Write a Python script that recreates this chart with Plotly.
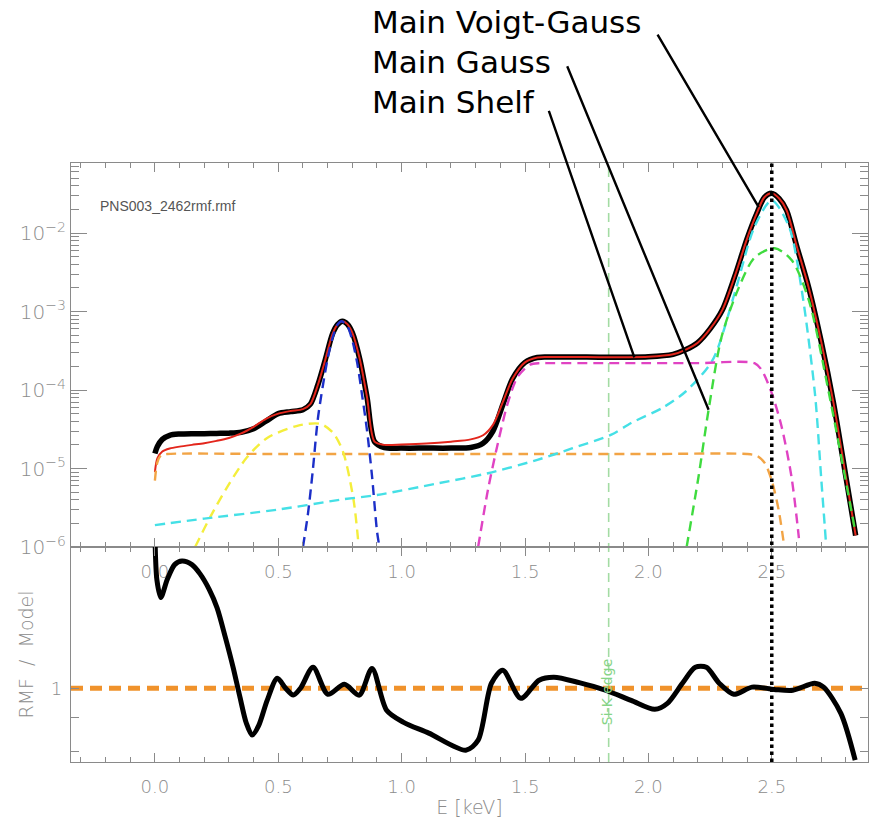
import plotly.graph_objects as go
from plotly.subplots import make_subplots
import math

# ---------------- data ----------------
rmf_E = [0.0, 0.01, 0.03, 0.06, 0.10, 0.15, 0.20, 0.25, 0.30, 0.35,
         0.40, 0.45, 0.50, 0.55, 0.60, 0.63, 0.66, 0.69, 0.72, 0.74,
         0.76, 0.78, 0.80, 0.83, 0.86, 0.89, 0.93, 1.00, 1.10, 1.20,
         1.28, 1.33, 1.37, 1.41, 1.45, 1.50, 1.55, 1.60, 1.70, 1.80,
         1.90, 2.00, 2.10, 2.15, 2.20, 2.25, 2.30, 2.35, 2.40, 2.44,
         2.47, 2.50, 2.53, 2.56, 2.60, 2.65, 2.70, 2.75, 2.80, 2.84]
rmf_val = [1.55e-5, 1.9e-5, 2.35e-5, 2.65e-5, 2.75e-5, 2.78e-5, 2.78e-5, 2.8e-5, 2.82e-5, 2.9e-5,
           3.2e-5, 4.0e-5, 5.0e-5, 5.3e-5, 5.6e-5, 6.6e-5, 1.15e-4, 2.4e-4, 5.2e-4, 6.8e-4,
           7.5e-4, 6.9e-4, 5.4e-4, 2.5e-4, 8e-5, 2.2e-5, 1.85e-5, 1.82e-5, 1.82e-5, 1.82e-5,
           1.85e-5, 2.1e-5, 3.0e-5, 6.5e-5, 1.4e-4, 2.25e-4, 2.6e-4, 2.63e-4, 2.63e-4, 2.62e-4,
           2.62e-4, 2.65e-4, 2.85e-4, 3.25e-4, 4.0e-4, 6.0e-4, 1.05e-3, 2.8e-3, 8.5e-3, 1.8e-2,
           2.85e-2, 3.2e-2, 2.75e-2, 1.95e-2, 7e-3, 2e-3, 4.2e-4, 6.9e-5, 8e-6, 1.4e-6]
model_val = [9e-6, 1.35e-5, 1.65e-5, 1.8e-5, 1.9e-5, 2.0e-5, 2.1e-5, 2.25e-5, 2.45e-5, 2.8e-5,
             3.4e-5, 4.3e-5, 5.0e-5, 5.4e-5, 5.7e-5, 6.6e-5, 1.15e-4, 2.4e-4, 5.2e-4, 6.8e-4,
             7.5e-4, 6.9e-4, 5.4e-4, 2.5e-4, 8e-5, 2.2e-5, 2.0e-5, 2.02e-5, 2.08e-5, 2.2e-5,
             2.35e-5, 2.65e-5, 3.6e-5, 7e-5, 1.4e-4, 2.25e-4, 2.6e-4, 2.63e-4, 2.63e-4, 2.62e-4,
             2.62e-4, 2.65e-4, 2.85e-4, 3.25e-4, 4.0e-4, 6.0e-4, 1.05e-3, 2.8e-3, 8.5e-3, 1.8e-2,
             2.85e-2, 3.2e-2, 2.75e-2, 1.95e-2, 7e-3, 2e-3, 4.2e-4, 6.9e-5, 8e-6, 1.4e-6]

orange_E = [0.0, 0.01, 0.025, 0.05, 0.5, 1.0, 1.5, 2.0, 2.40, 2.44, 2.472, 2.50, 2.528, 2.549]
orange_val = [7e-6, 1.2e-5, 1.48e-5, 1.53e-5, 1.53e-5, 1.53e-5, 1.53e-5, 1.53e-5, 1.53e-5,
              1.45e-5, 1.17e-5, 7e-6, 2.95e-6, 1.1e-6]

yellow_E = [0.163, 0.224, 0.293, 0.374, 0.455, 0.577, 0.671, 0.724, 0.764, 0.805, 0.825]
yellow_val = [1e-6, 2.4e-6, 5.8e-6, 1.4e-5, 2.45e-5, 3.5e-5, 3.7e-5, 2.8e-5, 1.58e-5, 4e-6, 1.1e-6]

blue_E = [0.60, 0.62, 0.64, 0.66, 0.68, 0.70, 0.72, 0.74, 0.757, 0.78, 0.80, 0.82,
          0.84, 0.86, 0.88, 0.90, 0.91]
blue_val = [1.0e-6, 2.6e-6, 9.5e-6, 4.2e-5, 1.1e-4, 2.5e-4, 4.6e-4, 6.8e-4, 7.5e-4, 6.5e-4,
            4.3e-4, 2.2e-4, 8.5e-5, 3.0e-5, 8e-6, 1.6e-6, 1.0e-6]

magenta_E = [1.31, 1.35, 1.39, 1.43, 1.47, 1.52, 1.56, 1.60, 1.80, 2.00, 2.20, 2.43,
             2.459, 2.50, 2.54, 2.58, 2.61]
magenta_val = [1e-6, 5.4e-6, 2.1e-5, 6.8e-5, 1.47e-4, 2.1e-4, 2.2e-4, 2.2e-4, 2.2e-4, 2.2e-4,
               2.2e-4, 2.2e-4, 1.8e-4, 9.1e-5, 3.4e-5, 7.8e-6, 1.3e-6]

cyan_E = [0.0, 0.2, 0.5, 0.75, 0.9, 1.15, 1.35, 1.55, 1.69, 1.85, 1.93, 2.06, 2.15, 2.26,
          2.35, 2.43, 2.50, 2.57, 2.62, 2.675, 2.70, 2.72]
cyan_val = [1.9e-6, 2.3e-6, 3.0e-6, 4.0e-6, 4.6e-6, 6.5e-6, 8.7e-6, 1.29e-5, 1.8e-5, 2.7e-5,
            3.8e-5, 6e-5, 9.5e-5, 2.4e-4, 1.73e-3, 1.2e-2, 2.6e-2, 1.2e-2, 2e-3, 9e-5, 7.8e-6, 1.1e-6]

green_E = [2.155, 2.203, 2.244, 2.297, 2.366, 2.431, 2.512, 2.581, 2.65, 2.732, 2.837]
green_val = [1e-6, 7.8e-6, 5.6e-5, 4.8e-4, 2e-3, 4.9e-3, 6.4e-3, 4.5e-3, 1.4e-3, 9e-5, 1.66e-6]

ratio_E = [0.0, 0.008, 0.024, 0.05, 0.08, 0.11, 0.15, 0.183, 0.22, 0.252, 0.285, 0.317,
           0.345, 0.37, 0.394, 0.42, 0.455, 0.496, 0.53, 0.561, 0.59, 0.641, 0.701, 0.768,
           0.828, 0.880, 0.939, 1.006, 1.11, 1.26, 1.31, 1.364, 1.41, 1.483, 1.557, 1.617,
           1.72, 1.826, 1.93, 2.026, 2.077, 2.138, 2.19, 2.235, 2.287, 2.346, 2.42, 2.51,
           2.585, 2.674, 2.71, 2.78, 2.838]
ratio_val = [1.75, 1.47, 1.38, 1.47, 1.55, 1.57, 1.55, 1.50, 1.42, 1.33, 1.20, 1.077,
             0.968, 0.885, 0.847, 0.875, 0.958, 1.036, 1.0, 0.976, 1.0, 1.077, 0.979, 1.014,
             0.976, 1.073, 0.925, 0.887, 0.853, 0.803, 0.832, 1.018, 1.066, 0.965, 1.029, 1.04,
             1.02, 0.993, 0.958, 0.928, 0.948, 1.018, 1.077, 1.077, 1.018, 0.979, 1.004, 0.996,
             0.993, 1.018, 1.004, 0.915, 0.775]

top_tick_exponents = [-6, -5, -4, -3, -2]
ratio_major_ticks = [1.0]
ratio_major_text = ["1"]
ratio_minor_ticks = [0.8, 0.9]

SI_K_EDGE = 1.839
LINE_ENERGY = 2.5
RATIO_REF = 1.0
file_label = "PNS003_2462rmf.rmf"
callouts = [  # (text, energy, value at the pointed spot)
    ("Main Voigt-Gauss", 2.447, 2.14e-2),
    ("Main Gauss", 2.244, 5.6e-5),
    ("Main Shelf", 1.943, 2.6e-4),
]

# ---------------- figure ----------------
W, H = 874, 826
ML, MR, MT, MB = 71, 6, 163, 64
top_frac = 384 / 599

fig = make_subplots(rows=2, cols=1, vertical_spacing=0,
                    row_heights=[top_frac, 1 - top_frac])

GREY = "#8c8c8c"
AX = "#8a8a8a"
TICKFONT = dict(family="DejaVu Sans", size=18, color=GREY, weight=200)

def dline(color, width=2.4):
    return dict(color=color, width=width, dash="10px,6px", shape="spline", smoothing=0.8)

fig.add_trace(go.Scatter(x=rmf_E, y=rmf_val, mode="lines",
                         line=dict(color="black", width=5.5, shape="spline", smoothing=0.8)), 1, 1)
fig.add_trace(go.Scatter(x=rmf_E, y=model_val, mode="lines",
                         line=dict(color="#e3261c", width=2, shape="spline", smoothing=0.8)), 1, 1)
for xs, ys, c in [(orange_E, orange_val, "#f2a445"),
                  (yellow_E, yellow_val, "#f4ee3c"),
                  (cyan_E, cyan_val, "#45e0e6"),
                  (magenta_E, magenta_val, "#e043c3"),
                  (blue_E, blue_val, "#1c2fc8"),
                  (green_E, green_val, "#3fdb3f")]:
    fig.add_trace(go.Scatter(x=xs, y=ys, mode="lines", line=dline(c)), 1, 1)

# bottom panel
x_range = [-0.34, 2.89]
fig.add_trace(go.Scatter(x=x_range, y=[RATIO_REF, RATIO_REF], mode="lines",
                         line=dict(color="#f0922b", width=5, dash="12px,7px")), 2, 1)
fig.add_trace(go.Scatter(x=ratio_E, y=ratio_val, mode="lines",
                         line=dict(color="black", width=5, shape="spline", smoothing=0.8)), 2, 1)

# vertical markers
fig.add_shape(type="line", xref="x", yref="paper", x0=SI_K_EDGE, x1=SI_K_EDGE, y0=0, y1=1,
              line=dict(color="#a3dca3", width=1.6, dash="9px,6px"), layer="below")
fig.add_shape(type="line", xref="x", yref="paper", x0=LINE_ENERGY, x1=LINE_ENERGY, y0=0, y1=1,
              line=dict(color="black", width=3.5, dash="dot"))

minor_log = [k * 10.0 ** n for n in range(-6, -1) for k in range(2, 10)]

axis_common = dict(showline=True, linecolor=AX, linewidth=1.2, mirror="ticks",
                   ticks="inside", tickcolor=AX, showgrid=False, zeroline=False)

fig.update_xaxes(range=x_range, tick0=0, dtick=0.5, tickformat=".1f", ticklen=9,
                 ticklabelstandoff=8, tickfont=TICKFONT,
                 minor=dict(ticks="inside", dtick=0.1, ticklen=5, tickcolor=AX),
                 **axis_common)
fig.update_xaxes(showticklabels=True, row=1, col=1)
fig.update_xaxes(title=dict(text="E [keV]", font=dict(family="DejaVu Sans", size=19, color=GREY, weight=200),
                            standoff=4), row=2, col=1)

fig.update_yaxes(type="log", range=[-6, -1.108], tickmode="array",
                 tickvals=[10.0 ** p for p in top_tick_exponents],
                 ticktext=["10<sup>\u2212%d</sup>" % (-p) for p in top_tick_exponents],
                 ticklen=16, ticklabelstandoff=0,
                 tickfont=dict(family="DejaVu Sans", size=20, color=GREY, weight=200),
                 minor=dict(ticks="inside", tickvals=minor_log, ticklen=8, tickcolor=AX),
                 row=1, col=1, **axis_common)
fig.update_yaxes(type="log", range=[math.log10(0.77), math.log10(1.65)],
                 tickmode="array", tickvals=ratio_major_ticks, ticktext=ratio_major_text,
                 ticklen=8, ticklabelstandoff=4, tickfont=TICKFONT,
                 minor=dict(ticks="inside", tickvals=ratio_minor_ticks, ticklen=8, tickcolor=AX),
                 title=dict(text="RMF  /  Model", font=dict(family="DejaVu Sans", size=19, color=GREY, weight=200),
                            standoff=12),
                 row=2, col=1, **axis_common)

annotations = [
    dict(text=file_label, xref="paper", yref="paper", x=27 / 797, y=(762 - 206) / 599,
         xanchor="left", yanchor="middle", showarrow=False,
         font=dict(family="Liberation Sans", size=14, color="#555555")),
    dict(text="Si-K edge", xref="x2", yref="y2", x=SI_K_EDGE, y=math.log10(0.985),
         textangle=-90, xanchor="right", xshift=8, showarrow=False,
         font=dict(family="DejaVu Sans", size=14, color="#86d486")),
]
text_y = [22, 62, 102]
offsets = [(-102, -174), (-142, -345), (-86, -248)]
for (txt, e, v), ty, (ax, ay) in zip(callouts, text_y, offsets):
    annotations.append(dict(text=txt, xref="paper", yref="paper", x=(370 - ML) / 797,
                            y=(762 - ty) / 599, xanchor="left", yanchor="middle",
                            showarrow=False,
                            font=dict(family="DejaVu Sans", size=31, color="black")))
    annotations.append(dict(text="", xref="x", yref="y", x=e, y=math.log10(v),
                            showarrow=True, arrowhead=0, arrowwidth=2.4, arrowcolor="black",
                            ax=ax, ay=ay, axref="pixel", ayref="pixel"))

fig.update_layout(width=W, height=H, margin=dict(l=ML, r=MR, t=MT, b=MB),
                  paper_bgcolor="white", plot_bgcolor="white", showlegend=False,
                  annotations=annotations)

fig.write_html("out.html")
